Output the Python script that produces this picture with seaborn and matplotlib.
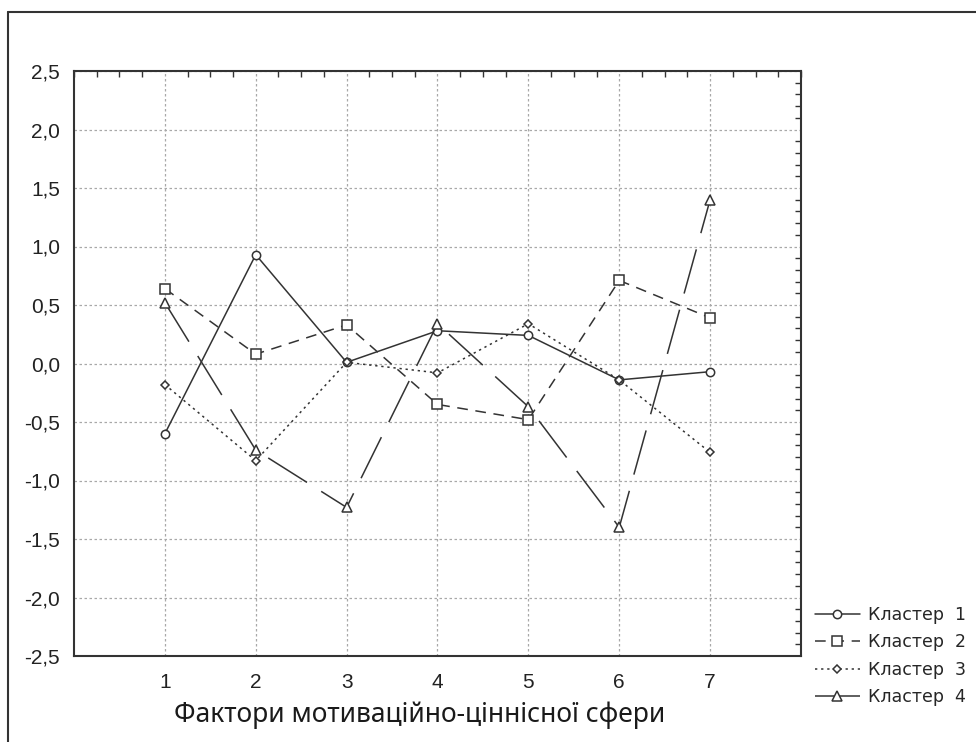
import matplotlib
matplotlib.use("Agg")
import matplotlib.pyplot as plt
import seaborn as sns
import pandas as pd
from matplotlib.lines import Line2D
from matplotlib.ticker import MultipleLocator

# факторы 1..7
factors = [1, 2, 3, 4, 5, 6, 7]
cluster_names = ["Кластер  1", "Кластер  2", "Кластер  3", "Кластер  4"]
cluster_1 = [-0.60, 0.93, 0.01, 0.28, 0.24, -0.14, -0.07]
cluster_2 = [0.64, 0.08, 0.33, -0.35, -0.48, 0.71, 0.39]
cluster_3 = [-0.18, -0.83, 0.01, -0.08, 0.34, -0.14, -0.76]
cluster_4 = [0.52, -0.74, -1.23, 0.34, -0.37, -1.40, 1.40]

y_ticks = [2.5, 2.0, 1.5, 1.0, 0.5, 0.0, -0.5, -1.0, -1.5, -2.0, -2.5]
y_tick_labels = ["2,5", "2,0", "1,5", "1,0", "0,5", "0,0", "-0,5", "-1,0", "-1,5", "-2,0", "-2,5"]
x_label = "Фактори мотиваційно-ціннісної сфери"

rows = []
for name, vals in zip(cluster_names, [cluster_1, cluster_2, cluster_3, cluster_4]):
    for f, v in zip(factors, vals):
        rows.append({"factor": f, "value": v, "cluster": name})
df = pd.DataFrame(rows)

sns.set_style("white")
plt.rcParams["font.family"] = ["Liberation Sans", "DejaVu Sans"]

fig = plt.figure(figsize=(9.76, 7.42), dpi=100)
ax = fig.add_axes([74 / 976, 1 - 656 / 742, (801 - 74) / 976, (656 - 71) / 742])

ink = "#333333"
styles = {
    cluster_names[0]: dict(marker="o", linestyle="-", ms=6),
    cluster_names[1]: dict(marker="s", linestyle=(0, (7, 5)), ms=6.5),
    cluster_names[2]: dict(marker="D", linestyle=(0, (1.5, 2.5)), ms=4.5),
    cluster_names[3]: dict(marker="^", linestyle=(0, (30, 11)), ms=6.5),
}

for name in cluster_names:
    sub = df[df["cluster"] == name]
    st = styles[name]
    sns.lineplot(data=sub, x="factor", y="value", ax=ax, color=ink, lw=1.1,
                 marker=st["marker"], linestyle=st["linestyle"], markersize=st["ms"],
                 markerfacecolor="white", markeredgecolor=ink, mew=1.1,
                 label=name, legend=False)

ax.set_xlim(0, 8)
ax.set_ylim(-2.5, 2.5)
ax.set_xticks(factors)
ax.set_yticks(y_ticks)
ax.set_yticklabels(y_tick_labels)
ax.xaxis.set_minor_locator(MultipleLocator(0.25))
ax.yaxis.set_minor_locator(MultipleLocator(0.1))
ax.tick_params(which="both", direction="in", top=True, right=True, colors=ink,
               labelcolor="#222222", labelsize=15)
ax.tick_params(which="major", length=0, pad=12)
ax.tick_params(which="minor", length=4, width=1)
ax.tick_params(axis="y", which="major", pad=10)
ax.grid(True, which="major", color="#a8a8a8", linestyle=(0, (2, 2)), lw=0.9)
for sp in ax.spines.values():
    sp.set_color(ink)
    sp.set_linewidth(1.5)

ax.set_xlabel(x_label, family=["Noto Sans", "DejaVu Sans"], fontsize=19,
              color="#1a1a1a")
ax.xaxis.set_label_coords((420 - 74) / 727, -0.077)
ax.set_ylabel("")

handles = [l for l in ax.get_lines() if l.get_label() in cluster_names]
fig.legend(handles=handles, labels=cluster_names, loc="upper left",
           bbox_to_anchor=(799 / 976, 1 - 590 / 742), frameon=False,
           handlelength=2.6, handletextpad=0.5, labelspacing=0.55,
           prop={"family": ["DejaVu Sans"], "size": 12.5})

# рамка вокруг рисунка
fig.add_artist(Line2D([8 / 976, 8 / 976], [0, 1 - 12 / 742], color=ink, lw=1.5))
fig.add_artist(Line2D([8 / 976, 1], [1 - 12 / 742, 1 - 12 / 742], color=ink, lw=1.5))

fig.savefig("out.png", dpi=100, facecolor="white")
